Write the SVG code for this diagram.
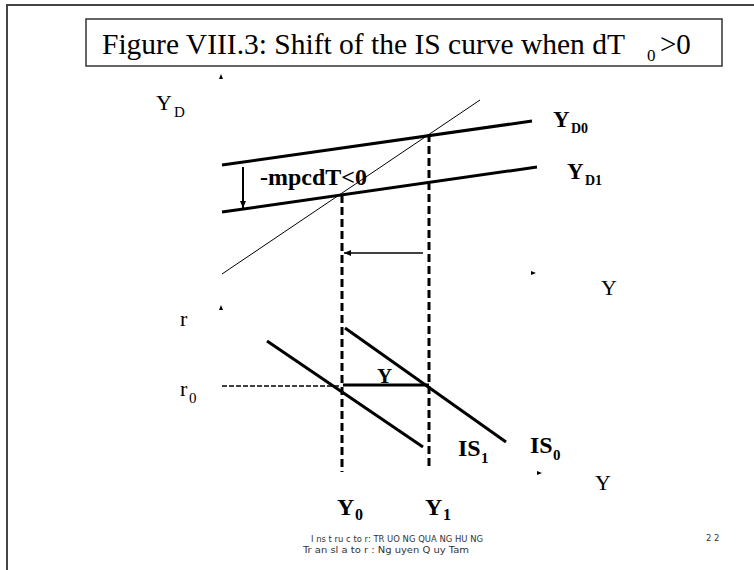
<svg xmlns="http://www.w3.org/2000/svg" width="754" height="570" viewBox="0 0 754 570">
<style>
.serif{font-family:"Liberation Serif","Times New Roman",serif;fill:#000}
.b{font-weight:bold}
.thick{stroke:#000;stroke-width:3;fill:none}
.thin{stroke:#000;stroke-width:1;fill:none}
.dash{stroke:#000;stroke-width:3;stroke-dasharray:8,4;fill:none}
.foot{font-family:"DejaVu Sans","Liberation Sans",sans-serif;font-size:8.5px;fill:#333}
</style>
<defs>
<marker id="ah" markerWidth="8" markerHeight="8" refX="7" refY="4" orient="auto" markerUnits="userSpaceOnUse">
<path d="M0,1 L7,4 L0,7 Z" fill="#000"/>
</marker>
</defs>
<rect width="754" height="570" fill="#fff"/>
<path d="M7,580 V5 H760" fill="none" stroke="#444" stroke-width="2"/>
<g id="title">
<rect x="86" y="19" width="636" height="47" fill="#fff" stroke="#333" stroke-width="1.5"/>
<text class="serif" x="102" y="54" font-size="29" textLength="523" lengthAdjust="spacingAndGlyphs">Figure VIII.3: Shift of the IS curve when dT</text>
<text class="serif" x="647" y="61" font-size="17">0</text>
<text class="serif" x="660" y="54" font-size="29">&gt;0</text>
</g>
<g id="axes-marks" fill="#000">
<path d="M219,79 L221,74 L223,79 Z"/>
<path d="M219,310 L221,305 L223,310 Z"/>
<path d="M531,271 L536,273 L531,275 Z"/>
<path d="M537,471 L542,473 L537,475 Z"/>
</g>
<g id="connectors">
<line class="thin" x1="222" y1="274" x2="480" y2="100"/>
<line class="thick" x1="222" y1="165" x2="532" y2="121"/>
<line class="thick" x1="222" y1="212" x2="537" y2="167"/>
<line class="dash" x1="342" y1="195" x2="342" y2="472"/>
<line class="dash" x1="429" y1="134" x2="429" y2="467"/>
<line x1="243" y1="167" x2="243" y2="208" stroke="#000" stroke-width="2" marker-end="url(#ah)"/>
<line x1="423" y1="253" x2="344" y2="253" stroke="#000" stroke-width="1.5" marker-end="url(#ah)"/>
<line x1="222" y1="386" x2="340" y2="386" stroke="#000" stroke-width="1.5" stroke-dasharray="5,2"/>
<line class="thick" x1="343" y1="385" x2="429" y2="385"/>
<line class="thick" x1="267" y1="341" x2="423" y2="447"/>
<line class="thick" x1="345" y1="328" x2="506" y2="442"/>
</g>
<g id="labels">
<text class="serif" x="156" y="110" font-size="22">Y</text>
<text class="serif" x="174" y="117" font-size="15">D</text>
<text class="serif b" x="260" y="185" font-size="23" textLength="107" lengthAdjust="spacingAndGlyphs">-mpcdT&lt;0</text>
<text class="serif b" x="553" y="127" font-size="23">Y</text>
<text class="serif b" x="571" y="133" font-size="14">D0</text>
<text class="serif b" x="567" y="179" font-size="23">Y</text>
<text class="serif b" x="585" y="185" font-size="14">D1</text>
<text class="serif" x="601" y="295" font-size="22">Y</text>
<text class="serif" x="180" y="326" font-size="22">r</text>
<text class="serif" x="180" y="396" font-size="22">r</text>
<text class="serif" x="189" y="403" font-size="15">0</text>
<text class="serif b" x="377" y="383" font-size="21">Y</text>
<text class="serif b" x="458" y="456" font-size="24">IS</text>
<text class="serif b" x="481" y="463" font-size="15">1</text>
<text class="serif b" x="530" y="453" font-size="24">IS</text>
<text class="serif b" x="553" y="460" font-size="15">0</text>
<text class="serif" x="595" y="490" font-size="22">Y</text>
<text class="serif b" x="337" y="515" font-size="24">Y</text>
<text class="serif b" x="355" y="520" font-size="16">0</text>
<text class="serif b" x="425" y="515" font-size="24">Y</text>
<text class="serif b" x="443" y="520" font-size="16">1</text>
</g>
<g id="footer">
<text class="foot" x="311" y="542" textLength="172" lengthAdjust="spacingAndGlyphs">I ns t ru c to r: TR UO NG QUA NG HU NG</text>
<text class="foot" x="303" y="553" textLength="166" lengthAdjust="spacingAndGlyphs">Tr an sl a to r : Ng uyen Q uy Tam</text>
<text class="foot" x="706" y="541">2 2</text>
</g>
</svg>
